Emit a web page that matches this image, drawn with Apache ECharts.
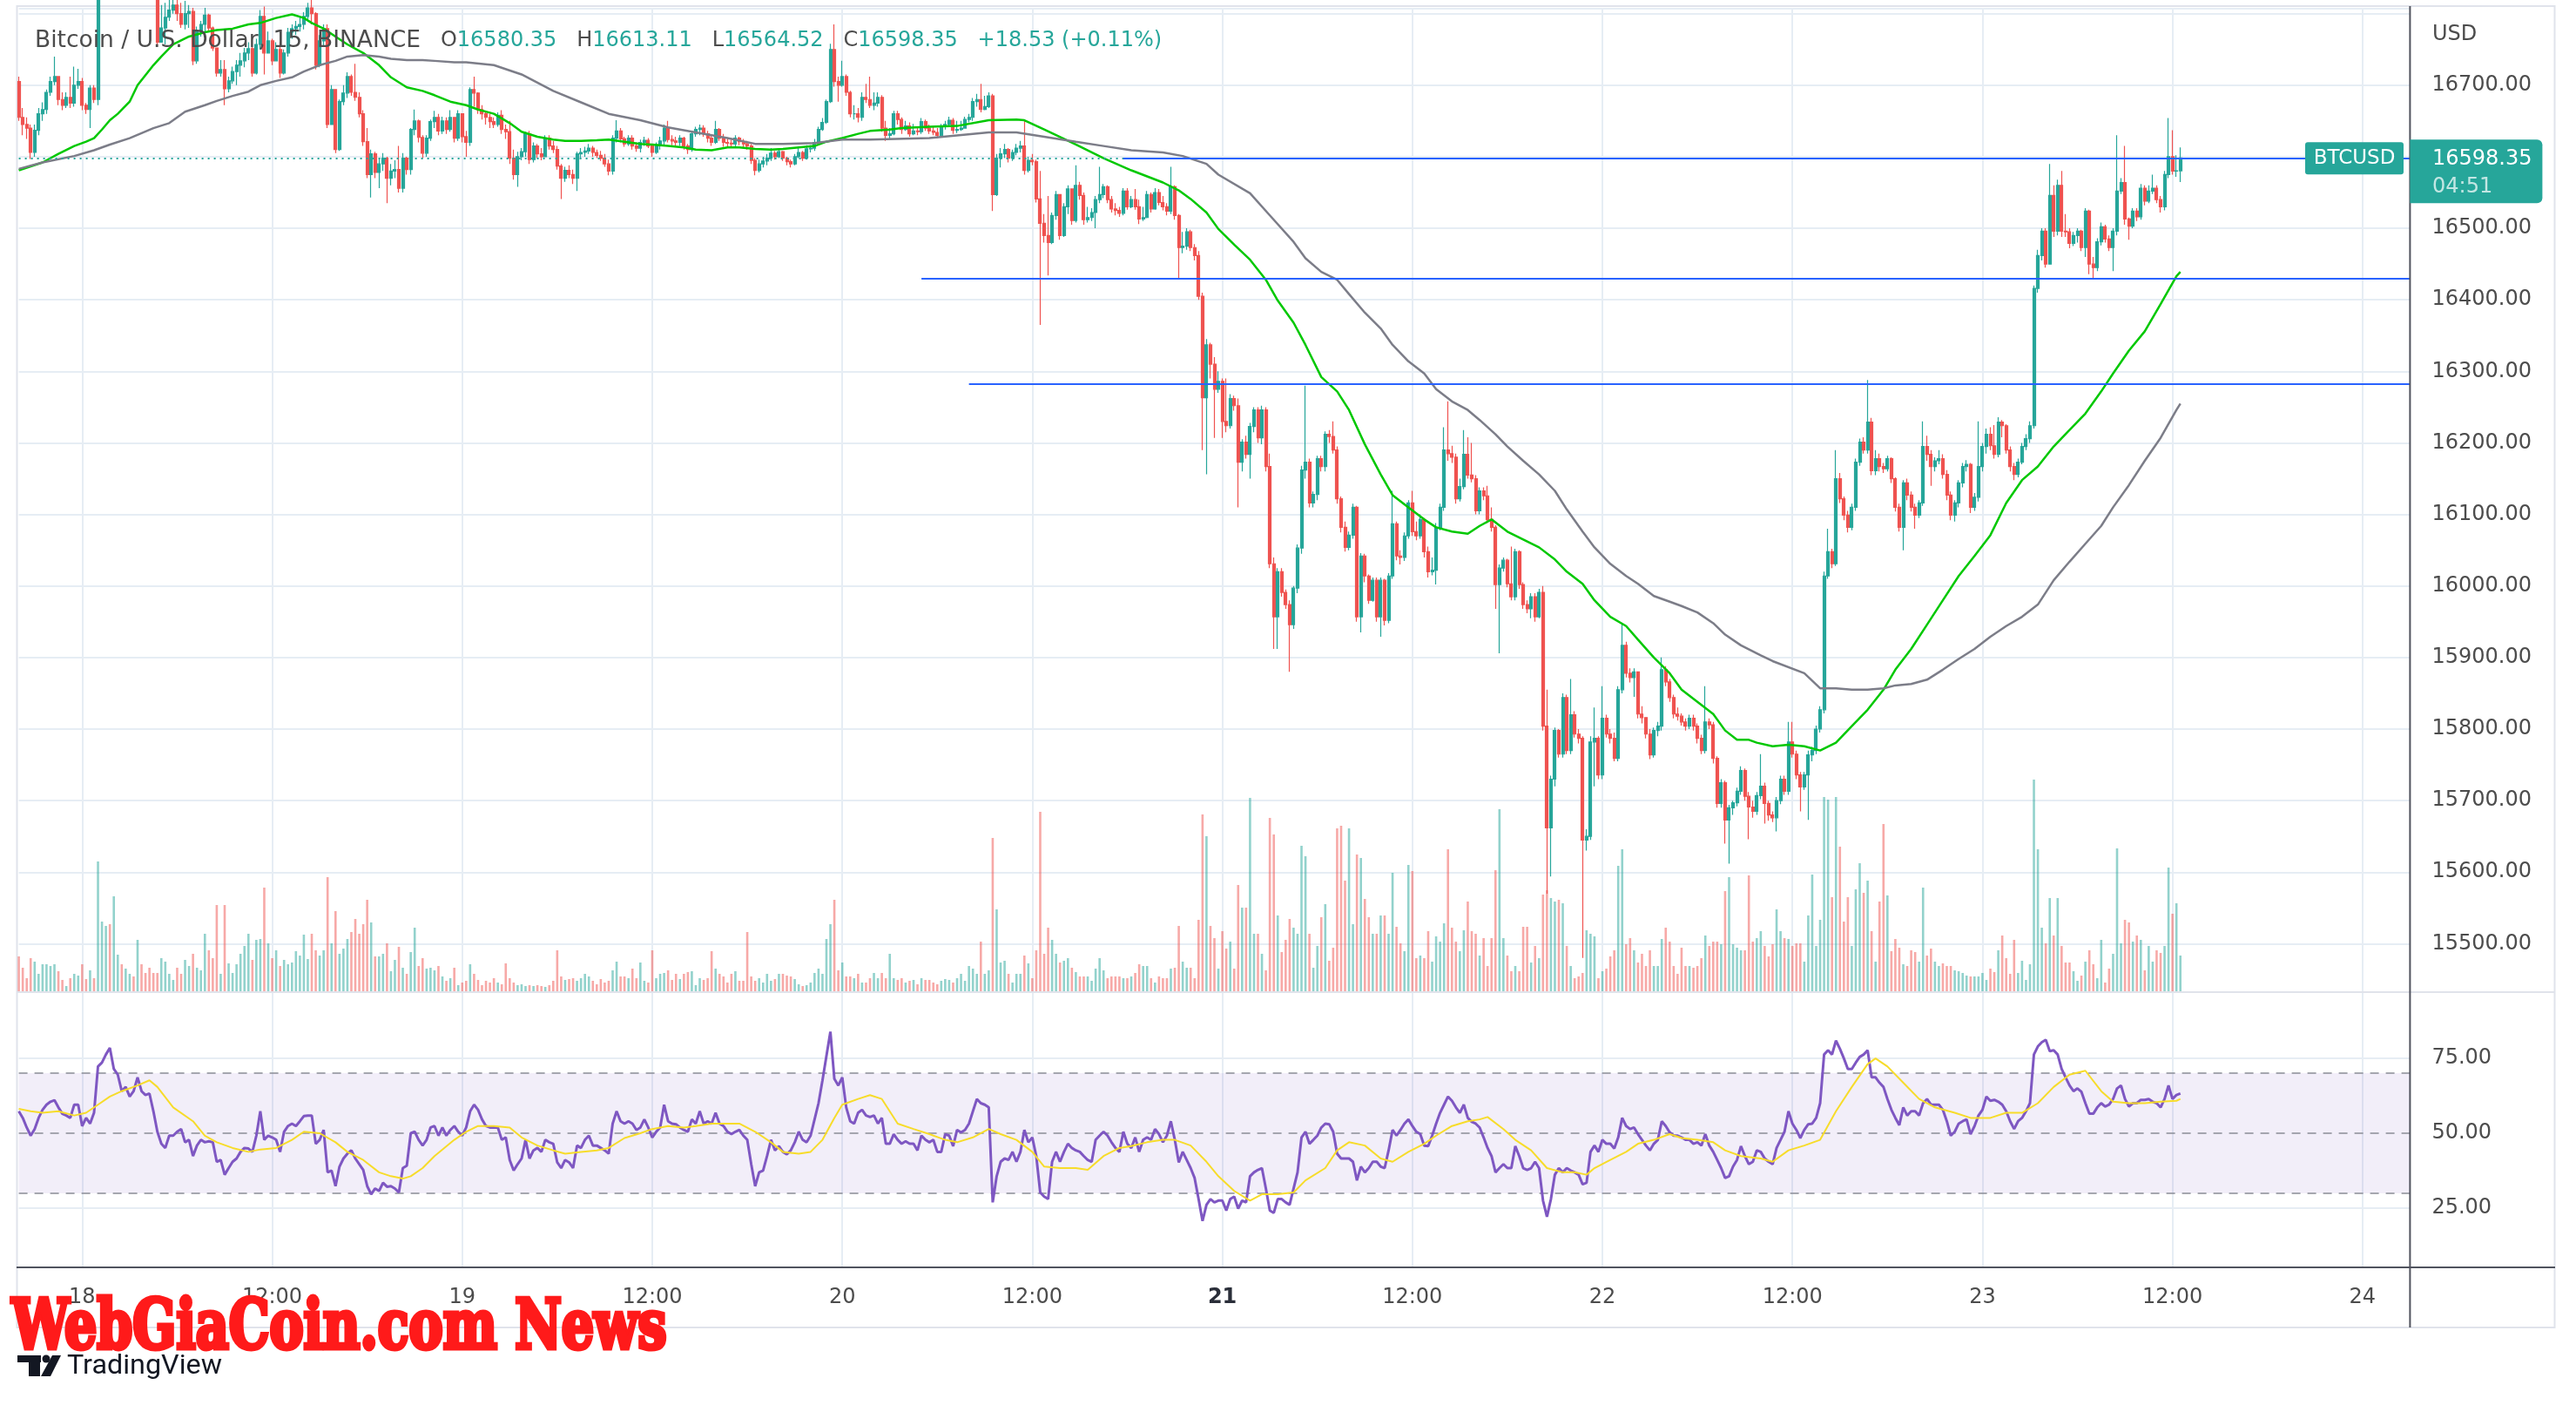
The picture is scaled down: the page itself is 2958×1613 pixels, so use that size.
<!DOCTYPE html>
<html lang="en">
<head>
    <meta charset="UTF-8" />
    <title>BTCUSD 15</title>
    <script src="https://cdn.jsdelivr.net/npm/echarts@6/dist/echarts.min.js"></script>
    <style>
        html, body { margin: 0; padding: 0; background: #fff; }
        #main { width: 2958px; height: 1613px; }
    </style>
</head>
<body>
<div id="main"></div>
<script>
// time axis: one slot = one 15 min candle, slot 16 = 18 Nov 00:00
const timeLabels = ['18', '12:00', '19', '12:00', '20', '12:00', '21', '12:00', '22', '12:00', '23', '12:00', '24'];
const slotCount = 605;
const firstDaySlot = 16;
const slotsPerLabel = 48;

// OHLC (open = previous close)
const firstOpen = 16705;
const closes = [
    16655,16645,16640,16606,16637,16660,16666,16690,16705,16712,
    16680,16672,16683,16675,16700,16705,16672,16666,16696,16680,
    16835,16845,16860,16852,16870,16880,16865,16875,16890,16880,
    16895,16885,16870,16860,16850,16760,16780,16795,16805,16812,
    16800,16785,16800,16803,16734,16775,16785,16798,16780,16752,
    16717,16722,16695,16706,16719,16728,16734,16745,16751,16717,
    16757,16796,16745,16762,16734,16750,16717,16745,16774,16779,
    16782,16785,16796,16808,16800,16728,16762,16779,16645,16694,
    16610,16677,16689,16712,16690,16683,16660,16621,16575,16604,
    16578,16590,16598,16570,16580,16582,16556,16598,16582,16638,
    16650,16627,16605,16626,16649,16655,16636,16650,16638,16655,
    16626,16660,16628,16620,16694,16689,16666,16660,16655,16649,
    16645,16658,16638,16635,16598,16575,16600,16607,16632,16596,
    16615,16604,16600,16626,16615,16610,16587,16570,16581,16575,
    16570,16604,16606,16608,16612,16606,16602,16598,16590,16580,
    16626,16636,16625,16618,16626,16615,16612,16620,16623,16615,
    16606,16616,16622,16640,16624,16622,16620,16626,16615,16610,
    16632,16638,16640,16632,16626,16620,16638,16626,16620,16619,
    16618,16626,16621,16618,16615,16595,16581,16590,16594,16598,
    16605,16600,16607,16598,16593,16590,16600,16606,16598,16611,
    16612,16620,16638,16648,16677,16750,16705,16700,16712,16690,
    16660,16660,16655,16683,16680,16672,16675,16683,16640,16630,
    16632,16660,16652,16638,16643,16632,16636,16635,16649,16640,
    16636,16634,16630,16642,16645,16651,16637,16638,16640,16652,
    16655,16677,16680,16666,16670,16685,16547,16598,16604,16610,
    16598,16606,16612,16615,16581,16595,16593,16541,16507,16490,
    16480,16518,16547,16490,16530,16555,16511,16560,16546,16512,
    16515,16522,16540,16547,16558,16540,16527,16525,16521,16552,
    16530,16540,16530,16513,16515,16547,16527,16550,16536,16530,
    16524,16558,16518,16473,16475,16495,16473,16462,16405,16263,
    16337,16310,16275,16286,16230,16224,16262,16252,16173,16201,
    16184,16223,16246,16207,16246,16167,16031,15957,16020,15991,
    15974,15946,15997,16053,16162,16173,16116,16128,16178,16167,
    16212,16209,16190,16122,16082,16054,16071,16110,15957,16042,
    16014,15980,16008,15957,16008,15952,16014,16087,16042,16040,
    16070,16116,16076,16070,16093,16048,16020,16022,16082,16110,
    16190,16185,16180,16122,16139,16184,16155,16150,16105,16133,
    16126,16093,16082,16002,16025,16036,16003,15985,16048,16002,
    15974,15968,15985,15957,15991,15804,15662,15730,15798,15765,
    15844,15770,15820,15793,15787,15645,15650,15782,15787,15736,
    15815,15793,15787,15759,15855,15917,15878,15872,15880,15821,
    15816,15793,15764,15798,15804,15883,15866,15844,15821,15818,
    15810,15804,15815,15804,15787,15770,15810,15806,15759,15696,
    15725,15673,15690,15697,15713,15742,15706,15691,15685,15707,
    15720,15696,15680,15676,15700,15730,15713,15782,15765,15736,
    15719,15736,15764,15770,15800,15827,16014,16048,16031,16150,
    16122,16099,16082,16110,16173,16201,16190,16229,16161,16178,
    16167,16164,16178,16150,16110,16082,16144,16127,16110,16099,
    16116,16195,16184,16167,16175,16178,16156,16127,16099,16116,
    16144,16167,16170,16110,16124,16167,16195,16212,16196,16184,
    16229,16224,16190,16167,16156,16173,16195,16206,16224,16416,
    16462,16496,16450,16546,16496,16560,16496,16495,16479,16490,
    16496,16473,16524,16450,16445,16481,16502,16485,16473,16496,
    16552,16564,16513,16503,16524,16516,16556,16538,16552,16556,
    16540,16530,16575,16600,16580,16580.35,16598.35
];
const highs = [
    16712,16668,16655,16645,16645,16668,16676,16694,16712,16740,
    16712,16690,16690,16712,16726,16723,16710,16675,16700,16700,
    16850,16860,16875,16870,16885,16895,16885,16890,16905,16900,
    16910,16900,16892,16880,16870,16830,16812,16815,16820,16825,
    16825,16815,16818,16812,16808,16782,16790,16808,16800,16782,
    16750,16735,16735,16712,16726,16735,16745,16752,16760,16755,
    16765,16805,16810,16775,16765,16760,16760,16750,16780,16785,
    16790,16795,16802,16815,16822,16802,16770,16785,16785,16700,
    16690,16680,16700,16718,16715,16730,16690,16665,16640,16610,
    16607,16598,16605,16600,16590,16595,16615,16605,16600,16640,
    16666,16652,16630,16630,16652,16664,16660,16656,16655,16665,
    16655,16665,16660,16636,16697,16712,16690,16672,16664,16660,
    16655,16662,16665,16645,16650,16610,16607,16612,16635,16636,
    16620,16618,16612,16630,16630,16622,16615,16590,16586,16588,
    16582,16607,16612,16614,16618,16615,16610,16608,16604,16596,
    16630,16651,16640,16628,16630,16630,16620,16624,16628,16626,
    16618,16620,16628,16645,16650,16630,16628,16630,16628,16618,
    16636,16642,16645,16644,16636,16630,16650,16640,16632,16626,
    16624,16630,16628,16625,16622,16618,16598,16596,16600,16604,
    16612,16608,16612,16608,16600,16596,16604,16612,16608,16616,
    16616,16625,16642,16654,16680,16758,16785,16712,16734,16715,
    16692,16672,16668,16690,16702,16712,16690,16690,16686,16650,
    16640,16664,16664,16655,16650,16648,16646,16642,16654,16652,
    16645,16642,16640,16646,16650,16656,16654,16650,16650,16656,
    16660,16682,16688,16702,16685,16690,16688,16604,16612,16618,
    16612,16610,16618,16622,16650,16600,16604,16596,16580,16520,
    16545,16522,16552,16545,16535,16560,16555,16588,16565,16550,
    16530,16528,16545,16586,16562,16560,16545,16535,16530,16556,
    16556,16545,16555,16540,16530,16552,16550,16556,16555,16545,
    16535,16586,16560,16520,16495,16500,16498,16478,16468,16410,
    16345,16340,16320,16300,16290,16290,16268,16266,16262,16205,
    16210,16228,16250,16250,16252,16250,16185,16040,16025,16025,
    15995,15980,16000,16058,16168,16280,16178,16132,16182,16182,
    16216,16218,16230,16195,16125,16090,16076,16115,16112,16046,
    16045,16016,16012,16012,16012,16010,16018,16133,16090,16050,
    16075,16120,16133,16090,16100,16095,16055,16040,16088,16115,
    16222,16258,16196,16185,16150,16218,16208,16200,16155,16138,
    16138,16140,16110,16085,16030,16040,16038,16055,16052,16050,
    16005,15980,15990,15990,15996,16000,15855,15735,15802,15800,
    15850,15848,15870,15825,15800,15790,15660,15790,15830,15790,
    15860,15820,15800,15795,15860,15946,15922,15885,15885,15880,
    15832,15815,15800,15802,15810,15900,15888,15870,15848,15830,
    15822,15815,15820,15820,15808,15792,15860,15815,15810,15762,
    15730,15728,15694,15700,15718,15748,15745,15712,15700,15712,
    15765,15725,15700,15685,15705,15735,15735,15810,15810,15770,
    15740,15740,15770,15775,15805,15832,16020,16080,16052,16190,
    16158,16125,16105,16115,16178,16206,16208,16288,16235,16190,
    16185,16172,16182,16180,16152,16115,16148,16150,16132,16115,
    16120,16230,16210,16190,16180,16190,16184,16162,16132,16120,
    16148,16172,16176,16172,16130,16230,16200,16220,16222,16225,
    16236,16232,16226,16195,16172,16178,16200,16212,16230,16420,
    16470,16500,16500,16590,16560,16568,16580,16520,16500,16495,
    16500,16498,16528,16526,16460,16486,16508,16505,16490,16500,
    16630,16570,16615,16515,16528,16528,16562,16560,16560,16575,
    16560,16545,16580,16654,16637,16602,16613.11
];
const lows = [
    16650,16630,16625,16597,16600,16630,16650,16660,16685,16700,
    16672,16665,16668,16668,16670,16695,16665,16660,16640,16675,
    16672,16815,16838,16840,16845,16860,16855,16860,16870,16868,
    16875,16870,16860,16845,16835,16755,16762,16757,16790,16800,
    16790,16780,16778,16780,16728,16730,16768,16775,16776,16748,
    16712,16712,16672,16690,16702,16700,16712,16725,16735,16712,
    16715,16750,16715,16745,16728,16735,16710,16715,16740,16765,
    16770,16775,16778,16792,16785,16722,16725,16755,16640,16645,
    16605,16608,16672,16682,16685,16678,16655,16615,16570,16543,
    16570,16556,16580,16535,16560,16570,16550,16550,16575,16575,
    16630,16620,16598,16600,16622,16640,16630,16632,16632,16635,
    16620,16622,16620,16600,16615,16670,16660,16652,16645,16640,
    16640,16642,16632,16625,16590,16568,16558,16595,16600,16590,
    16592,16598,16595,16600,16610,16605,16582,16541,16565,16570,
    16562,16552,16598,16600,16604,16600,16598,16594,16586,16574,
    16575,16620,16620,16614,16615,16610,16607,16606,16615,16612,
    16600,16604,16610,16615,16620,16616,16615,16615,16610,16604,
    16607,16628,16630,16628,16620,16615,16618,16622,16614,16614,
    16612,16614,16616,16612,16610,16590,16574,16578,16585,16588,
    16594,16596,16598,16594,16588,16585,16588,16598,16594,16596,
    16606,16608,16618,16636,16646,16675,16698,16677,16698,16685,
    16655,16652,16648,16650,16675,16668,16665,16670,16635,16622,
    16625,16630,16645,16632,16636,16628,16630,16630,16632,16636,
    16632,16630,16626,16628,16638,16642,16632,16633,16636,16640,
    16648,16650,16670,16662,16665,16668,16524,16545,16585,16598,
    16592,16594,16602,16606,16575,16578,16588,16536,16365,16480,
    16434,16478,16512,16484,16488,16520,16505,16508,16540,16505,
    16508,16510,16500,16535,16542,16535,16522,16518,16516,16518,
    16526,16528,16526,16506,16510,16514,16522,16526,16532,16525,
    16518,16520,16512,16430,16465,16470,16468,16455,16400,16190,
    16156,16290,16207,16270,16207,16215,16220,16245,16110,16160,
    16178,16150,16215,16200,16198,16160,16025,15912,15912,15985,
    15968,15880,15940,15990,16045,16150,16110,16110,16120,16160,
    16160,16200,16185,16115,16075,16048,16050,16066,15950,15935,
    16005,15975,15978,15950,15929,15945,15948,16010,16036,16030,
    16035,16066,16070,16064,16066,16040,16012,16015,16002,16078,
    16105,16175,16172,16115,16118,16135,16150,16145,16100,16100,
    16120,16088,16076,15968,15906,16020,15998,15980,15980,15996,
    15968,15962,15955,15950,15955,15798,15570,15594,15720,15760,
    15760,15765,15765,15788,15780,15480,15630,15645,15720,15730,
    15730,15788,15780,15755,15755,15850,15872,15865,15845,15815,
    15808,15787,15758,15760,15790,15798,15860,15838,15815,15812,
    15805,15798,15800,15798,15780,15765,15766,15800,15752,15690,
    15690,15640,15612,15680,15692,15708,15700,15646,15676,15680,
    15702,15668,15672,15670,15657,15695,15708,15708,15760,15730,
    15685,15715,15673,15755,15765,15795,15822,16010,16025,16028,
    16116,16092,16075,16078,16105,16168,16185,16185,16155,16155,
    16160,16158,16160,16144,16104,16076,16050,16120,16104,16080,
    16095,16112,16175,16140,16160,16170,16150,16120,16092,16090,
    16110,16138,16160,16102,16105,16118,16160,16185,16190,16178,
    16180,16208,16185,16160,16148,16152,16170,16190,16200,16220,
    16410,16455,16445,16450,16488,16490,16488,16488,16472,16475,
    16480,16468,16460,16436,16430,16440,16476,16480,16468,16440,
    16490,16548,16505,16484,16500,16510,16512,16532,16535,16548,
    16535,16522,16525,16570,16575,16572,16564.52
];

// volume (bar heights, same scale for all bars)
const volumes = [
    40,27,15,38,34,20,31,31,29,31, 23,13,6,15,20,18,31,14,24,15,
    149,80,75,77,109,42,31,26,20,17, 59,31,21,27,21,21,38,34,20,13,
    27,20,36,29,43,27,24,66,47,38, 99,20,99,32,21,31,43,52,66,36,
    59,60,119,55,38,47,29,36,31,33, 46,41,65,37,66,47,41,47,131,55,
    92,43,49,60,68,83,66,77,105,79, 40,40,43,55,23,36,51,27,20,45,
    73,29,38,26,27,24,29,17,12,15,
    27,7,10,12,31,20,13,7,12,10, 15,10,8,32,15,10,7,8,6,7,
    6,7,6,5,7,12,47,17,13,14, 15,12,15,20,17,12,8,14,10,12,
    24,34,17,17,15,26,15,33,12,10, 47,15,20,21,24,13,20,14,20,22,
    23,7,15,13,15,46,26,20,17,10, 20,23,12,12,68,17,12,15,10,20,
    12,14,20,20,18,17,14,8,6,7, 10,21,26,20,60,77,105,24,33,17,
    17,15,20,10,10,15,21,15,21,
    15,
    43,15,13,15,10,12,13,8,15,13, 13,10,8,12,14,13,10,15,20,12,
    29,26,20,57,20,24,176,94,33,35, 20,10,20,20,41,32,15,47,206,43,
    73,59,43,33,35,38,27,22,17,17, 17,12,26,38,24,15,17,17,17,15,
    15,17,21,31,29,29,15,10,17,15,
    15,26,27,
    75,34,27,27,15,82,203,
    178,75,61,26,69,49,57,26,122,96, 96,222,66,66,43,24,199,180,87,45,
    59,83,73,66,167,155,
    66,27,52,85,
    100,35,50,187,190,127,187,77,157,153, 106,85,66,66,87,87,66,136,74,55,
    46,145,138,38,41,38,69,34,63,57, 78,163,73,57,46,70,103,69,66,41,
    61,29,61,139,209,61,41,23,29,23, 74,74,33,52,38,111,116,107,103,105,
    101,52,29,15,17,21,70,66,63,15, 23,26,40,47,144,163,54,61,47,33,
    43,29,47,29,29,60,73,57,29,20, 50,29,29,27,29,38,64,52,57,57,
    54,115,131,54,50,47,47,133,57,61,
    69,52,40,54,94,69,61,60,52,55, 55,34,87,134,52,82,223,220,108,223,
    166,80,108,52,117,147,113,127,69,34, 103,192,110,46,60,50,31,29,47,45,
    34,119,41,49,34,29,32,29,29,24, 23,21,18,17,17,17,21,13,26,22,
    47,64,38,20,59,21,35,13,31,243, 163,73,55,107,64,107,52,33,33,23,
    12,18,34,47,31,15,59,10,26,43, 164,55,82,79,57,64,59,24,52,34,
    47,44,52,142,89,101,41
];

// RSI 14
const rsi = [
    57.3,55.1,51.9,49.2,51.4,55.1,57.8,59.5,60.5,61, 58.6,56.5,55.9,55.1,59.5,59.5,52.4,55.1,53.2,56.8,
    72.2,73.5,76.2,78.4,71.4,69.5,64,65.4,62.2,64, 68.6,64,62.7,63.2,57.3,50.5,46.5,45.1,49.2,49.2,
    50.5,51.4,47,47.8,42.4,45.9,47.8,47,47.3,47, 40.5,41.1,36.2,38.4,40.5,41.6,43.8,45.1,44.9,43.8,
    49.2,57.3,47.8,49.2,48.6,47.8,43.8,50.5,52.4,53.2, 52.4,54,55.7,55.9,55.9,46.5,47.8,51.1,37,37.6,
    32.4,38.9,41.6,43.2,44.3,41.6,39.7,37.8,32.4,29.7, 31.6,30.8,33.5,32.2,32.4,31.6,30.3,38.4,39.2,50,
    50.5,47.8,45.9,47.8,51.9,52.4,49.2,51.9,49.2,51.1,
    52.4,50.5,49.2,51.9,57.3,59.5,57.8,54.6,52.4,51.9, 51.9,51.9,47.8,48.6,41.1,37.6,39.7,41.6,47.8,41.6,
    44.3,45.1,43.8,47.8,47,46.5,40.3,38.4,41.1,40.3, 38.4,45.9,45.1,47.8,49.2,45.9,45.9,45.1,44.3,43.2,
    53.2,57.3,54,53.2,54,53.2,51.1,51.9,54.6,51.9, 48.6,50.5,51.9,59.5,54,53.2,53,51.9,51.1,50.5,
    54.6,53.2,57.3,53.2,54,53.2,56.8,53.2,52.4,50.5, 49.7,50.5,51.1,49.2,47.8,39.7,32.4,37,37.6,42.4,
    47.8,44.3,45.7,43.8,43,44.3,47,50.5,47.8,47, 49.2,54.6,60,67.6,75.7,83.8,68.1,65.9,68.6,58.6,
    54,53.2,56.8,57.8,55.9,55.4,55.9,53.2,55.1,
    46.5,
    46.5,49.7,47.8,46.5,47.3,46.5,46.5,44.3,49.2,47.8, 47,47.8,43.8,43.8,49.7,49.2,45.7,51.1,50.3,51.1,
    53.2,57.3,61.4,60,59.5,58.6,27,35.7,40.5,41.6, 41.1,43.8,40.5,43.8,51.1,47,48.6,42.4,30.3,28.9,
    28.1,40.5,43.8,40.5,43.8,46.5,45.1,44.3,43.8,42.4, 41.1,40.5,47.8,49.2,50.5,49.2,47,45.1,43.8,50.5,
    46.5,45.1,48.6,43.8,47.8,48.6,47.8,51.4,49.7,47, 49.2,54,47.8,40.3,43.8,41.1,38.4,35.1,28.1,20.8,
    26.2,28.1,27,27.6,27.6,24.3,28.1,28.9,24.9,27.6, 27,35.7,37,37.8,38.4,31.6,24.3,23.5,28.1,28.1,
    27,26.2,31.6,37,48.6,50.5,46.5,47.8,49.2,51.9, 53.2,53,50.5,43.2,41.6,41.6,41.6,40.5,34.3,38.9,
    37,38.4,40.5,40.5,38.9,38.4,44.3,51.1,49.2,51.1, 53.2,54.6,52.4,50.5,49.7,45.9,45.7,49.2,53.2,56.8,
    59.5,62.2,60.8,58.6,56.8,59.5,55.1,53.8,53.2,51.9, 48.6,45.1,42.4,37,38.4,39.7,38.4,38.4,45.7,42.4,
    38.4,37.8,38.4,40.5,38.4,27.6,22.2,28.1,36.2,38.4, 37,38.4,37.6,37,36.2,33,33.5,43.8,45.9,43.8,
    47.8,46.5,46.5,44.9,48.6,55.1,52.4,51.4,51.9,49.7, 47.8,45.9,44.3,46.5,47.8,54,52.4,50.3,49.2,49.2,
    48.6,47.8,47.8,46.5,47,45.9,49.7,45.9,43.8,41.1, 38.4,35.1,35.7,38.9,41.1,45.7,42.4,39.7,40.5,44.3,
    43.8,41.6,40.5,39.7,45.1,47.8,50.5,57.3,53.2,51.1, 48.4,51.1,53,53.2,55.1,60,76.2,77.6,76.2,80.8,
    78.1,74.9,71.4,71.4,73.5,75.4,76.2,77.6,68.6,68.6, 66.8,65.4,61.4,57.8,55.1,52.7,58.6,55.9,57.3,57.3,
    55.9,60,61.4,59.5,59.5,59.5,57.8,54,49.2,50.5, 53.2,54,54.6,49.7,52.4,55.9,57.8,62.2,60.8,61.1,
    60.5,59.5,57.3,54,51.4,54,55.1,57.3,60,76.2, 78.9,80.3,81.1,77.3,77.6,76.2,71.4,68.6,65.9,64,
    64.9,63.8,60,56.5,56.5,58.6,60,58.9,59.5,61.4, 64.9,65.9,61.4,58.9,60,60,61.1,61.1,61.4,60.5,
    60,58.6,61.4,65.9,61.4,62.7,63.2
];

// RSI based MA, [slot, value]
const rsiMa = [
    [0,58.1],[3,57.3],[6,56.8],[10,57.3],[14,55.9],[17,56.8],[20,59.5],[23,62.2],[26,64],[30,65.9],
    [33,67.6],[35,65.4],[39,58.6],[44,54],[47,49.2],[50,47],[54,45.1],[58,43.8],[61,44.6],[65,45.1],
    [69,47.8],[72,50.5],[76,50],[80,47],[83,43.8],[87,41.1],[91,37],[94,35.7],[97,34.9],[99,35.7],
    [102,38.4],[105,42.4],[110,47.8],[113,50.5],[116,52.4],[120,52.4],[124,51.9],[127,48.6],[131,45.9],
    [135,44.3],[138,43.2],[142,43.8],[146,44.3],[149,45.1],[153,48.4],[157,50],[160,51.4],[164,52.4],
    [168,51.9],[171,52.4],[175,53.2],[179,53.2],[182,53.2],[186,50.5],[190,47],[193,43.8],[197,43.2],
    [200,43.8],[203,47.8],[206,55.1],[208,59.5],[212,61.4],[215,62.7],[218,61.4],[222,53.2],[226,51.4],
    [230,49.7],[234,47.8],[237,47],[241,48.6],[245,51.4],[248,49.7],[252,47.8],[256,43.8],[259,38.9],
    [263,38.4],[267,38.4],[270,37.8],[274,42.4],[278,45.1],[281,45.7],[285,47],[289,47.8],[292,47.8],
    [296,45.9],[300,40.5],[303,35.7],[307,30.8],[311,27.6],[314,29.7],[318,29.7],[322,30.3],[325,34.3],
    [330,38.4],[333,44.3],[336,47],[340,45.9],[344,41.6],[347,40.5],[351,43.8],[355,46.5],[358,49.2],
    [362,52.4],[366,54],[369,54.6],[371,55.4],[375,51.4],[378,47.8],[382,44.3],[386,38.4],[390,37],
    [393,37],[396,36.2],[398,38.4],[402,41.1],[406,43.8],[409,46.5],[413,47.8],[417,49.7],[420,48.4],
    [424,47.8],[428,47],[431,44.3],[435,42.4],[440,41.6],[443,40.5],[447,44.3],[451,45.9],[455,47.8],
    [459,57.3],[463,65.4],[467,73],[469,74.9],[472,72.2],[476,66.8],[480,61.4],[484,58.6],[489,56.8],
    [493,55.1],[498,55.1],[502,56.8],[506,56.8],[510,60],[514,65.4],[518,69.5],[522,70.8],[526,64],
    [529,60.5],[533,60],[537,60],[541,60.5],[545,60.8],[546,61.4]
];

// moving averages on price, [slot, price]
const maFast = [
    [0,16581],[6,16592],[10,16604],[14,16615],[17,16621],[19,16626],[21,16638],[23,16651],[25,16660],
    [28,16677],[30,16700],[34,16728],[36,16740],[39,16757],[43,16768],[47,16774],[50,16777],[54,16779],
    [58,16785],[61,16787],[65,16794],[69,16799],[72,16794],[74,16787],[77,16779],[80,16768],[83,16757],
    [87,16745],[91,16728],[94,16711],[98,16697],[102,16692],[105,16686],[109,16677],[113,16672],
    [116,16666],[120,16660],[124,16647],[127,16635],[131,16628],[135,16624],[138,16622],[142,16622],
    [146,16623],[149,16624],[153,16621],[157,16618],[160,16617],[164,16615],[168,16613],[171,16610],
    [175,16609],[179,16613],[182,16613],[186,16611],[190,16610],[193,16611],[197,16613],[201,16615],
    [204,16621],[208,16626],[212,16632],[215,16636],[220,16638],[223,16640],[230,16642],[237,16643],
    [245,16651],[252,16652],[254,16651],[259,16638],[267,16617],[274,16598],[281,16581],[289,16564],
    [293,16553],[296,16541],[300,16522],[303,16499],[307,16477],[311,16456],[315,16428],[318,16399],
    [322,16368],[325,16337],[329,16292],[333,16272],[336,16246],[340,16198],[344,16156],[347,16127],
    [351,16110],[355,16093],[358,16082],[362,16076],[366,16073],[369,16084],[372,16093],[376,16076],
    [380,16065],[384,16054],[388,16037],[391,16020],[395,16003],[398,15980],[402,15957],[406,15944],
    [409,15925],[413,15900],[417,15878],[420,15855],[424,15838],[428,15821],[431,15798],[434,15785],
    [437,15785],[439,15781],[443,15776],[447,15778],[451,15776],[455,15770],[459,15781],[463,15804],
    [467,15827],[471,15855],[474,15883],[478,15912],[482,15946],[486,15980],[490,16014],[494,16042],
    [498,16071],[502,16116],[506,16148],[510,16167],[514,16195],[518,16218],[522,16241],[526,16272],
    [529,16297],[533,16329],[537,16356],[541,16394],[545,16433],[546,16439]
];
const maSlow = [
    [0,16583],[6,16592],[14,16601],[19,16609],[23,16617],[28,16626],[34,16640],[38,16647],[42,16663],
    [47,16672],[50,16678],[54,16685],[58,16691],[61,16700],[65,16706],[69,16711],[72,16719],[76,16728],
    [80,16734],[83,16740],[87,16742],[91,16740],[94,16737],[98,16735],[102,16735],[105,16734],
    [110,16732],[113,16732],[120,16728],[127,16715],[135,16692],[142,16676],[149,16660],[157,16651],
    [164,16641],[171,16634],[179,16626],[186,16618],[193,16618],[201,16619],[208,16624],[215,16624],
    [230,16626],[245,16634],[252,16634],[259,16628],[267,16621],[274,16615],[281,16609],[289,16606],
    [294,16601],[300,16590],[303,16575],[311,16549],[316,16518],[322,16481],[325,16458],[329,16439],
    [333,16428],[336,16408],[340,16382],[344,16360],[347,16337],[351,16314],[355,16297],[358,16275],
    [362,16258],[366,16246],[369,16232],[373,16212],[376,16195],[380,16175],[384,16156],[388,16133],
    [391,16107],[395,16076],[398,16054],[402,16031],[406,16014],[409,16003],[413,15986],[417,15978],
    [420,15972],[424,15963],[428,15948],[431,15932],[435,15917],[440,15903],[443,15895],[451,15878],
    [455,15857],[459,15857],[463,15855],[467,15855],[471,15857],[474,15861],[478,15863],[482,15869],
    [486,15883],[490,15898],[494,15912],[498,15929],[502,15944],[506,15957],[510,15974],[514,16008],
    [518,16034],[522,16059],[526,16084],[529,16110],[533,16141],[537,16175],[541,16207],[545,16246],
    [546,16255]
];

// drawn horizontal levels: price and the slot where each one starts
const levelPrices = [16598.35, 16430, 16282];
const levelStarts = [279, 228, 240];

const priceTicks = [15500, 15600, 15700, 15800, 15900, 16000, 16100, 16200, 16300, 16400, 16500, 16700];
const rsiTicks = [25, 50, 75];
const rsiBand = [30, 70];
const lastClose = 16598.35;

const UP = '#26a69a', DOWN = '#ef5350';
const gridColor = '#e6edf4';
const textColor = '#4c4c4c';
const axisDark = '#50535e';
const uiFont = 'DejaVu Sans';

const cats = [];
for (let i = 0; i < slotCount; i++) {
    const k = i - firstDaySlot;
    cats.push(k >= 0 && k % slotsPerLabel === 0 ? (timeLabels[k / slotsPerLabel] || '') : '');
}
const isTick = idx => idx >= firstDaySlot && (idx - firstDaySlot) % slotsPerLabel === 0;

const candles = closes.map((c, i) => {
    const o = i === 0 ? firstOpen : closes[i - 1];
    const h = highs[i] !== undefined ? highs[i] : Math.max(o, c);
    const l = lows[i] !== undefined ? lows[i] : Math.min(o, c);
    return [o, c, Math.min(l, o, c), Math.max(h, o, c)];
});
const volData = volumes.map((v, i) => ({
    value: v,
    itemStyle: { color: candles[i] && candles[i][1] >= candles[i][0] ? 'rgba(38,166,154,0.5)' : 'rgba(239,83,80,0.5)' }
}));

const gl = 21.6, gw = 2745.8;
const chart = echarts.init(document.getElementById('main'));

const option = {
    animation: false,
    backgroundColor: '#ffffff',
    grid: [
        { left: gl, top: 10, width: gw, height: 1129, outerBoundsMode: 'none' },
        { left: gl, top: 878, width: gw, height: 260, outerBoundsMode: 'none' },
        { left: gl, top: 1139, width: gw, height: 316, outerBoundsMode: 'none' }
    ],
    xAxis: [
        {
            type: 'category', gridIndex: 0, data: cats, boundaryGap: false,
            axisLine: { show: false }, axisTick: { show: false }, axisLabel: { show: false },
            splitLine: { show: true, interval: isTick, lineStyle: { color: gridColor, width: 2 } }
        },
        { type: 'category', gridIndex: 1, data: cats, boundaryGap: false, show: false },
        {
            type: 'category', gridIndex: 2, data: cats, boundaryGap: false,
            axisLine: { show: false }, axisTick: { show: false },
            axisLabel: {
                show: true, interval: isTick, color: textColor, fontSize: 24, fontFamily: uiFont, margin: 23,
                formatter: v => (v === '21' ? '{b|21}' : v),
                rich: { b: { fontWeight: 'bold', fontSize: 24, fontFamily: uiFont, color: '#2a2e39' } }
            },
            splitLine: { show: true, interval: isTick, lineStyle: { color: gridColor, width: 2 } }
        }
    ],
    yAxis: [
        {
            type: 'value', gridIndex: 0, position: 'right', min: 15432.3, max: 16806.9, splitNumber: 12,
            axisLine: { show: false }, axisTick: { show: false },
            axisLabel: {
                customValues: priceTicks, formatter: v => v.toFixed(2),
                color: textColor, fontSize: 24, fontFamily: uiFont, margin: 25, align: 'left'
            },
            splitLine: { show: true, lineStyle: { color: gridColor, width: 2 } }
        },
        { type: 'value', gridIndex: 1, min: 0, max: 260, show: false },
        {
            type: 'value', gridIndex: 2, position: 'right', min: 5.36, max: 96.96,
            axisLine: { show: false }, axisTick: { show: false }, splitLine: { show: false },
            axisLabel: {
                customValues: rsiTicks, formatter: v => v.toFixed(2),
                color: textColor, fontSize: 24, fontFamily: uiFont, margin: 25, align: 'left'
            }
        }
    ],
    series: [
        {
            name: 'vol', type: 'bar', xAxisIndex: 1, yAxisIndex: 1, data: volData, barWidth: 2.6, z: 1
        },
        {
            name: 'BTCUSD', type: 'candlestick', xAxisIndex: 0, yAxisIndex: 0, data: candles,
            barWidth: 3.5, clip: true, z: 2,
            itemStyle: { color: UP, color0: DOWN, borderColor: UP, borderColor0: DOWN, borderWidth: 1.2 },
            markLine: {
                silent: true, symbol: ['none', 'none'], label: { show: false }, animation: false,
                data: [
                    { yAxis: lastClose, lineStyle: { color: UP, width: 2, type: [2, 5] } }
                ].concat(levelPrices.map((p, k) => [
                    { coord: [levelStarts[k], p], lineStyle: { color: '#2962ff', width: 2, type: 'solid' } },
                    { coord: [slotCount - 1, p] }
                ]))
            }
        },
        {
            name: 'MA fast', type: 'line', xAxisIndex: 0, yAxisIndex: 0, data: maFast, showSymbol: false,
            z: 3, lineStyle: { color: '#00c800', width: 2.5 }
        },
        {
            name: 'MA slow', type: 'line', xAxisIndex: 0, yAxisIndex: 0, data: maSlow, showSymbol: false,
            z: 3, lineStyle: { color: '#7c7d88', width: 2.5 }
        },
        {
            name: 'RSI', type: 'line', xAxisIndex: 2, yAxisIndex: 2, data: rsi, showSymbol: false, z: 3,
            lineStyle: { color: '#7e57c2', width: 3 },
            markArea: {
                silent: true, itemStyle: { color: 'rgba(126,87,194,0.1)' },
                data: [[{ yAxis: rsiBand[0] }, { yAxis: rsiBand[1] }]]
            },
            markLine: {
                silent: true, z: 1, symbol: ['none', 'none'], label: { show: false },
                data: [
                    { yAxis: rsiTicks[2], lineStyle: { color: gridColor, width: 2, type: 'solid' } },
                    { yAxis: rsiTicks[0], lineStyle: { color: gridColor, width: 2, type: 'solid' } },
                    { yAxis: rsiBand[1], lineStyle: { color: '#8a8d97', width: 1.5, type: [10, 8] } },
                    { yAxis: rsiTicks[1], lineStyle: { color: '#8a8d97', width: 1.5, type: [10, 8] } },
                    { yAxis: rsiBand[0], lineStyle: { color: '#8a8d97', width: 1.5, type: [10, 8] } }
                ]
            }
        },
        {
            name: 'RSI MA', type: 'line', xAxisIndex: 2, yAxisIndex: 2, data: rsiMa, showSymbol: false, z: 3,
            lineStyle: { color: '#f7dc2a', width: 2 }
        }
    ]
};
chart.setOption(option);

// overlays: frame, separators, price tags, legend, watermark
const yLast = chart.convertToPixel({ yAxisIndex: 0 }, lastClose);
const axisX = gl + gw;

const ctx = document.createElement('canvas').getContext('2d');
const wmFont = 'bold 78px "DejaVu Serif Condensed", "DejaVu Serif"';
ctx.font = wmFont;
const wmScale = 752 / ctx.measureText('WebGiaCoin.com News').width;
const tvFont = '31px Roboto';
ctx.font = tvFont;
const tvScale = 178 / ctx.measureText('TradingView').width;

const titleText =
    '{n|Bitcoin / U.S. Dollar, 15, BINANCE}{t|   O}{v|16580.35}{t|   H}{v|16613.11}' +
    '{t|   L}{v|16564.52}{t|   C}{v|16598.35}{v|   +18.53 (+0.11%)}';

function label(x, y, text, size, color, align) {
    return {
        type: 'text', silent: true, z: 61, x: x, y: y,
        style: { text: text, fill: color, fontSize: size, fontFamily: uiFont,
                 align: align, textAlign: align, verticalAlign: 'middle', textVerticalAlign: 'middle' }
    };
}

chart.setOption({
    graphic: [
        { type: 'rect', silent: true, z: 0, shape: { x: 19.5, y: 7, width: 2914, height: 1517 },
          style: { fill: 'none', stroke: '#e0e3eb', lineWidth: 2 } },
        { type: 'line', silent: true, z: 50, shape: { x1: 19, y1: 1139, x2: 2934, y2: 1139 },
          style: { stroke: '#e0e3eb', lineWidth: 2 } },
        { type: 'line', silent: true, z: 50, shape: { x1: 19, y1: 1455, x2: 2934, y2: 1455 },
          style: { stroke: axisDark, lineWidth: 2 } },
        { type: 'line', silent: true, z: 50, shape: { x1: axisX, y1: 7, x2: axisX, y2: 1524 },
          style: { stroke: axisDark, lineWidth: 2 } },
        label(2793, 40, 'USD', 24, textColor, 'left'),
        { type: 'rect', silent: true, z: 60, shape: { x: 2647, y: yLast - 18, width: 113, height: 37, r: 3 },
          style: { fill: UP } },
        label(2703.5, yLast + 1, 'BTCUSD', 23, '#ffffff', 'center'),
        { type: 'rect', silent: true, z: 60, shape: { x: axisX, y: yLast - 21, width: 152, height: 73, r: [0, 6, 6, 0] },
          style: { fill: UP } },
        label(2793, yLast + 1, lastClose.toFixed(2), 24, '#ffffff', 'left'),
        label(2793, yLast + 33, '04:51', 24, 'rgba(255,255,255,0.72)', 'left'),
        { type: 'text', silent: true, z: 70, x: 40, y: 47,
          style: { text: titleText, fontSize: 24, fontFamily: uiFont,
                   align: 'left', textAlign: 'left', verticalAlign: 'middle', textVerticalAlign: 'middle',
                   rich: { n: { fill: textColor, color: textColor, fontSize: 26.5, fontFamily: uiFont },
                           t: { fill: textColor, color: textColor, fontSize: 24, fontFamily: uiFont },
                           v: { fill: UP, color: UP, fontSize: 24, fontFamily: uiFont } } } },
        { type: 'text', silent: true, z: 100, x: 13.5, y: 1528, scaleX: wmScale,
          style: { text: 'WebGiaCoin.com News', font: wmFont, fill: '#ff1a1a', stroke: '#ff1a1a', lineWidth: 5,
                   lineJoin: 'round',
                   align: 'left', textAlign: 'left', verticalAlign: 'middle', textVerticalAlign: 'middle' } },
        { type: 'rect', silent: true, z: 100, shape: { x: 20, y: 1556, width: 27, height: 8 }, style: { fill: '#131722' } },
        { type: 'rect', silent: true, z: 100, shape: { x: 33, y: 1556, width: 13, height: 24 }, style: { fill: '#131722' } },
        { type: 'circle', silent: true, z: 100, shape: { cx: 53, cy: 1560, r: 4.5 }, style: { fill: '#131722' } },
        { type: 'polygon', silent: true, z: 100, shape: { points: [[60, 1556], [70, 1556], [58, 1580], [47, 1580]] },
          style: { fill: '#131722' } },
        { type: 'text', silent: true, z: 100, x: 77, y: 1569, scaleX: tvScale,
          style: { text: 'TradingView', font: tvFont, fill: '#131722',
                   align: 'left', textAlign: 'left', verticalAlign: 'middle', textVerticalAlign: 'middle' } }
    ]
});
</script>
</body>
</html>
